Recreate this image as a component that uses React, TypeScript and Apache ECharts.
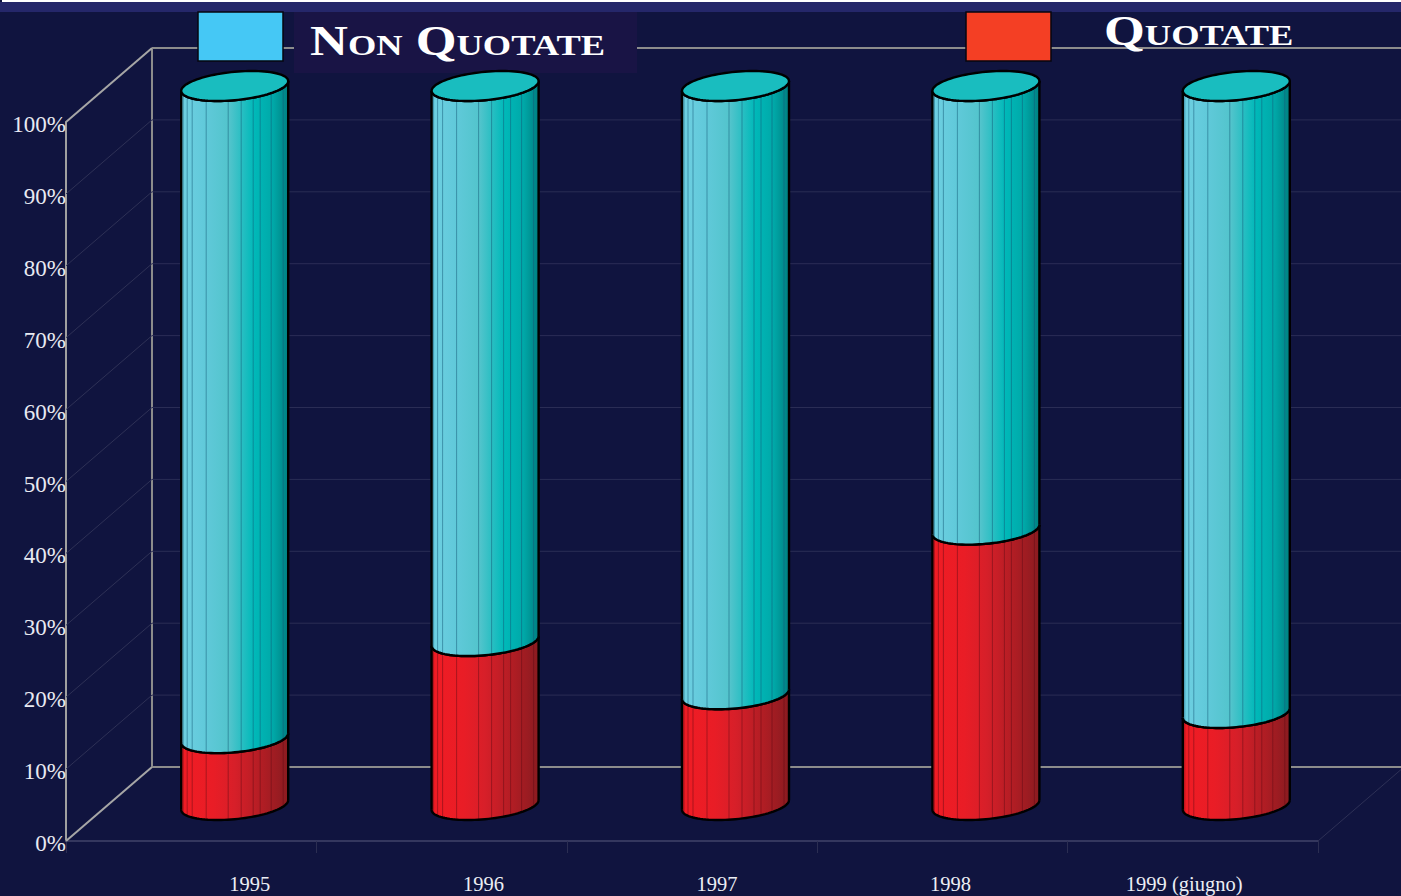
import React, { useEffect, useRef } from "react";
import * as echarts from "echarts";

const categories = ["1995", "1996", "1997", "1998", "1999 (giugno)"];
const quotate = [9.3, 22.8, 15.4, 38.3, 12.8];
const nonQuotate = [90.7, 77.2, 84.6, 61.7, 87.2];
const wallTicks = [0, 10, 20, 30, 40, 50, 60, 70, 80, 90, 100];

const SERIF = "'Liberation Serif', 'DejaVu Serif', serif";
const DEPTH_X = 86;
const DEPTH_Y = 74;
const HALF_W = 53.5;
const RY = 15;
const RX_SKEW = 17.4;
const T0 = Math.atan2(RX_SKEW, Math.sqrt(HALF_W * HALF_W - RX_SKEW * RX_SKEW));
const STRIPES = [2, 6, 11, 25, 47, 60, 72, 79, 90, 102];

const cyanFill = () =>
  new echarts.graphic.LinearGradient(0, 0, 1, 0, [
    { offset: 0, color: "#6fd0e2" },
    { offset: 0.2, color: "#62cadb" },
    { offset: 0.45, color: "#52c4cc" },
    { offset: 0.68, color: "#00b9b9" },
    { offset: 0.86, color: "#00a8a8" },
    { offset: 1, color: "#007f80" },
  ]);
const redFill = () =>
  new echarts.graphic.LinearGradient(0, 0, 1, 0, [
    { offset: 0, color: "#f01c24" },
    { offset: 0.3, color: "#e91d26" },
    { offset: 0.5, color: "#d71f29" },
    { offset: 0.75, color: "#b21d24" },
    { offset: 1, color: "#8a1b20" },
  ]);

// lower half of the tilted ellipse, left silhouette point to right silhouette point
function lowerArc(cx: number, cy: number) {
  const pts: number[][] = [];
  const n = 48;
  for (let i = 0; i <= n; i++) {
    const u = Math.PI + (Math.PI * i) / n;
    const t = u + T0;
    pts.push([cx + HALF_W * Math.cos(u), cy - RY * Math.sin(t)]);
  }
  return pts;
}
function fullEllipse(cx: number, cy: number) {
  const pts: number[][] = [];
  const n = 96;
  for (let i = 0; i < n; i++) {
    const u = (2 * Math.PI * i) / n;
    const t = u + T0;
    pts.push([cx + HALF_W * Math.cos(u), cy - RY * Math.sin(t)]);
  }
  return pts;
}
function arcYAt(offsetX: number, cy: number) {
  const u = 2 * Math.PI - Math.acos(offsetX / HALF_W);
  return cy - RY * Math.sin(u + T0);
}

function cylinderItem(fill: () => any, lineColor: string, withTop: boolean) {
  return (params: any, api: any) => {
    const idx = api.value(0);
    const low = api.coord([idx, api.value(1)]);
    const high = api.coord([idx, api.value(2)]);
    const cx = low[0] + DEPTH_X / 2 + 0.5;
    const cyLow = low[1] - 36;
    const cyHigh = high[1] - 36;
    const upper = lowerArc(cx, cyHigh);
    const lower = lowerArc(cx, cyLow);
    const outlineStyle = { fill: "none", stroke: "#000", lineWidth: 2.4 };
    const children: any[] = [
      {
        type: "polygon",
        shape: { points: [...upper, ...lower.slice().reverse()] },
        style: { fill: fill() },
      },
    ];
    STRIPES.forEach((s) => {
      const off = s - HALF_W;
      children.push({
        type: "line",
        shape: { x1: cx + off, y1: arcYAt(off, cyHigh), x2: cx + off, y2: arcYAt(off, cyLow) },
        style: { stroke: lineColor, lineWidth: 1 },
      });
    });
    children.push(
      { type: "polyline", shape: { points: upper }, style: outlineStyle },
      { type: "polyline", shape: { points: lower }, style: outlineStyle },
      {
        type: "line",
        shape: { x1: cx - HALF_W, y1: upper[0][1], x2: cx - HALF_W, y2: lower[0][1] },
        style: { stroke: "#000", lineWidth: 2.4 },
      },
      {
        type: "line",
        shape: {
          x1: cx + HALF_W,
          y1: upper[upper.length - 1][1],
          x2: cx + HALF_W,
          y2: lower[lower.length - 1][1],
        },
        style: { stroke: "#000", lineWidth: 2.4 },
      }
    );
    if (withTop) {
      children.push({
        type: "polygon",
        shape: { points: fullEllipse(cx, cyHigh) },
        style: { fill: "#19bdbf", stroke: "#000", lineWidth: 2.4 },
      });
    }
    return { type: "group", children };
  };
}

function wallItem(params: any, api: any) {
  const v = api.value(0);
  const y = api.coord([0, v])[1];
  const sys = params.coordSys;
  const x0 = sys.x;
  const x1 = sys.x + sys.width;
  const strong = v === 0 || v === 100;
  const children: any[] = [
    {
      type: "line",
      shape: { x1: x0, y1: y, x2: x0 + DEPTH_X, y2: y - DEPTH_Y },
      style: { stroke: strong ? "#a6a6a6" : "#2e3156", lineWidth: strong ? 2 : 1 },
    },
    {
      type: "line",
      shape: { x1: x0 + DEPTH_X, y1: y - DEPTH_Y, x2: x1 + DEPTH_X, y2: y - DEPTH_Y },
      style: { stroke: strong ? "#8c8c8c" : "#2a2d55", lineWidth: strong ? 2 : 1 },
    },
  ];
  if (v === 0) {
    const top = api.coord([0, 100])[1];
    children.push(
      {
        type: "line",
        shape: { x1: x0 + DEPTH_X, y1: y - DEPTH_Y, x2: x0 + DEPTH_X, y2: top - DEPTH_Y },
        style: { stroke: "#8c8c8c", lineWidth: 2 },
      },
      {
        type: "line",
        shape: { x1: x1, y1: y, x2: x1 + DEPTH_X, y2: y - DEPTH_Y },
        style: { stroke: "#2e3156", lineWidth: 1 },
      }
    );
  }
  return { type: "group", children };
}

export default function App() {
  const ref = useRef<HTMLDivElement>(null);
  useEffect(() => {
    const chart = echarts.init(ref.current!, undefined, { renderer: "svg" });
    const gridBox = { top: 122, bottom: 55 };
    chart.setOption({
      animation: false,
      backgroundColor: "#10143f",
      grid: [
        { left: 66, right: 83, ...gridBox },
        { left: 133, right: 100, ...gridBox },
      ],
      xAxis: [
        {
          type: "category",
          gridIndex: 0,
          data: categories,
          axisLine: { lineStyle: { color: "#34375e", width: 2 } },
          axisTick: { show: true, length: 12, lineStyle: { color: "#2b2e52" } },
          axisLabel: { show: false },
        },
        {
          type: "category",
          gridIndex: 1,
          data: categories,
          axisLine: { show: false },
          axisTick: { show: false },
          axisLabel: { color: "#eceef4", fontFamily: SERIF, fontSize: 20.5, margin: 32, interval: 0 },
        },
      ],
      yAxis: [
        {
          type: "value",
          gridIndex: 0,
          min: 0,
          max: 100,
          interval: 10,
          axisLine: { show: true, lineStyle: { color: "#a0a0a0", width: 2 } },
          axisTick: { show: false },
          splitLine: { show: false },
          axisLabel: {
            formatter: "{value}%",
            color: "#e8eaf2",
            fontFamily: SERIF,
            fontSize: 23,
            margin: 0,
            verticalAlign: "top",
            padding: [-9, 0, 0, 0],
          },
        },
        {
          type: "value",
          gridIndex: 1,
          min: 0,
          max: 100,
          show: false,
        },
      ],
      series: [
        {
          type: "custom",
          name: "wall",
          xAxisIndex: 0,
          yAxisIndex: 0,
          clip: false,
          z: 1,
          silent: true,
          data: wallTicks.map((v) => [v]),
          encode: { y: 0 },
          renderItem: wallItem,
        },
        {
          type: "custom",
          name: "Quotate",
          xAxisIndex: 0,
          yAxisIndex: 0,
          clip: false,
          z: 3,
          data: quotate.map((v, i) => [i, 0, v]),
          encode: { x: 0, y: [1, 2] },
          renderItem: cylinderItem(redFill, "rgba(90,10,20,0.45)", false),
        },
        {
          type: "custom",
          name: "Non Quotate",
          xAxisIndex: 0,
          yAxisIndex: 0,
          clip: false,
          z: 4,
          data: nonQuotate.map((v, i) => [i, quotate[i], quotate[i] + v]),
          encode: { x: 0, y: [1, 2] },
          renderItem: cylinderItem(cyanFill, "rgba(20,90,120,0.5)", true),
        },
        {
          type: "custom",
          name: "labels",
          xAxisIndex: 1,
          yAxisIndex: 1,
          silent: true,
          data: [],
          renderItem: () => null,
        },
      ],
      graphic: [
        { type: "rect", z: 10, shape: { x: 0, y: 2, width: 1401, height: 10 }, style: { fill: "#25276a" } },
        { type: "rect", z: 10, shape: { x: 2, y: 0, width: 1399, height: 2 }, style: { fill: "#ffffff" } },
        { type: "rect", z: 2, shape: { x: 294, y: 9, width: 343, height: 64 }, style: { fill: "#191445" } },
        { type: "rect", z: 11, shape: { x: 198, y: 12, width: 85, height: 49 }, style: { fill: "#45c8f5", stroke: "#06060f", lineWidth: 1.5 } },
        { type: "rect", z: 11, shape: { x: 966, y: 12, width: 85, height: 49 }, style: { fill: "#f43f24", stroke: "#06060f", lineWidth: 1.5 } },
        {
          type: "text",
          z: 12,
          x: 310,
          y: 20,
          scaleX: 1.25,
          style: { text: "Non Quotate", font: "small-caps bold 42px 'Liberation Serif'", fill: "#ffffff" },
        },
        {
          type: "text",
          z: 12,
          x: 1104,
          y: 10,
          scaleX: 1.25,
          style: { text: "Quotate", font: "small-caps bold 42px 'Liberation Serif'", fill: "#ffffff" },
        },
      ],
    });
    return () => chart.dispose();
  }, []);
  return <div ref={ref} style={{ position: "absolute", left: 0, top: 0, width: 1401, height: 896 }} />;
}
